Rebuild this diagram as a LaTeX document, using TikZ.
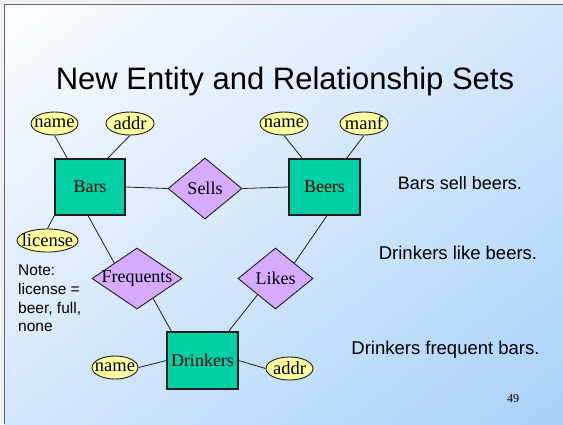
\documentclass[tikz,border=0pt]{standalone}
\usepackage{fontspec}
\setmainfont{Liberation Serif}
\setsansfont{Liberation Sans}
\usetikzlibrary{shapes.geometric,calc}
\definecolor{entfill}{RGB}{0,208,164}
\definecolor{relfill}{RGB}{214,170,255}
\definecolor{attfill}{RGB}{255,255,160}
\definecolor{edgec}{RGB}{30,30,30}
\definecolor{bgA}{RGB}{252,253,255}
\definecolor{bgB}{RGB}{212,231,251}
\definecolor{bgC}{RGB}{168,210,249}
\definecolor{framec}{RGB}{100,100,115}
\definecolor{outerc}{RGB}{238,240,244}
\tikzset{
  ent/.style={rectangle, draw=edgec, line width=1.2pt, fill=entfill, inner sep=0pt, font=\fontsize{18}{20}\selectfont},
  rel/.style={diamond, draw=edgec, line width=0.9pt, fill=relfill, inner sep=0pt, font=\fontsize{18}{20}\selectfont},
  att/.style={ellipse, draw=edgec, line width=0.9pt, fill=attfill, inner sep=0pt, minimum height=23pt, font=\fontsize{18.5}{20}\selectfont},
  conn/.style={draw=edgec, line width=0.8pt},
  side/.style={anchor=base, inner sep=0pt, font=\sffamily\fontsize{18.5}{22}\selectfont}
}
\begin{document}
\begin{tikzpicture}[x=1pt,y=-1pt]
\useasboundingbox (0,0) rectangle (563,424);
\fill[outerc] (0,0) rectangle (563,424);
\begin{scope}
  \clip (4,4) rectangle (563,424);
  \foreach \i in {0,...,79} {
    \pgfmathsetmacro{\sa}{\i/40}
    \pgfmathsetmacro{\sb}{(\i+1.8)/40}
    \ifnum\i<40
      \pgfmathsetmacro{\p}{100*(1-(\i+0.5)/40)}
      \colorlet{stripc}{bgA!\p!bgB}
    \else
      \pgfmathsetmacro{\p}{100*((\i+0.5)/40-1)}
      \colorlet{stripc}{bgC!\p!bgB}
    \fi
    \fill[stripc] (4+\sa*559,4) -- (4+\sb*559,4) -- (4,4+\sb*420) -- (4,4+\sa*420) -- cycle;
  }
\end{scope}
\draw[framec, line width=1.6pt] (4.5,424) -- (4.5,4.5) -- (563,4.5);

\node[anchor=base, inner sep=0pt, font=\sffamily\fontsize{31}{36}\selectfont] (title) at (285,89) {New Entity and Relationship Sets};

% entities
\node[ent, minimum width=70pt, minimum height=56pt] (bars) at (90,187) {Bars};
\node[ent, minimum width=71pt, minimum height=56pt] (beers) at (324.5,187) {Beers};
\node[ent, minimum width=71pt, minimum height=57pt] (drink) at (202.5,360.5) {Drinkers};

% relationships
\node[rel, minimum width=74pt, minimum height=61pt] (sells) at (205,188.5) {\makebox[0pt]{Sells}};
\node[rel, minimum width=90pt, minimum height=61pt] (freq) at (137,278.5) {\makebox[0pt]{Frequents}};
\node[rel, minimum width=75pt, minimum height=61pt] (likes) at (275.5,278.5) {\makebox[0pt]{Likes}};

% attributes
\node[att, minimum width=47pt] (bname) at (54.5,123.5) {\makebox[0pt]{name}};
\node[att, minimum width=48pt] (baddr) at (130,123.5) {\makebox[0pt]{addr}};
\node[att, minimum width=48pt] (ername) at (284,123.5) {\makebox[0pt]{name}};
\node[att, minimum width=48pt] (manf) at (364,123.5) {\makebox[0pt]{manf}};
\node[att, minimum width=61pt] (license) at (47.5,240.5) {\makebox[0pt]{license}};
\node[att, minimum width=46pt] (dname) at (115,367.5) {\makebox[0pt]{name}};
\node[att, minimum width=47pt] (daddr) at (289.5,368.5) {\makebox[0pt]{addr}};

% connectors
\draw[conn] (bname.south) -- ([xshift=13pt]bars.north west);
\draw[conn] (baddr.south) -- ([xshift=-18pt]bars.north east);
\draw[conn] (ername.south) -- ([xshift=14pt]beers.north west);
\draw[conn] (manf.south) -- ([xshift=-14pt]beers.north east);
\draw[conn] (license.north) -- (bars.south west);
\draw[conn] (bars.east) -- (sells.west);
\draw[conn] (sells.east) -- (beers.west);
\draw[conn] ([xshift=-2pt]bars.south) -- (freq.north west);
\draw[conn] ([xshift=2.5pt]beers.south) -- (likes.north east);
\draw[conn] (freq.-51) -- ([xshift=5pt]drink.north west);
\draw[conn] (likes.-138) -- ([xshift=-10pt]drink.north east);
\draw[conn] (dname.east) -- (drink.west);
\draw[conn] (drink.east) -- (daddr.west);

% side texts
\node[side, font=\sffamily\fontsize{18}{22}\selectfont] (t1) at (460,189) {Bars sell beers.};
\node[side] (t2) at (458,259) {Drinkers like beers.};
\node[side] (t3) at (445.5,354) {Drinkers frequent bars.};
\node[anchor=north west, inner sep=0pt, align=left, font=\sffamily\fontsize{15.5}{18.7}\selectfont] (note) at (18,265) {Note:\\license =\\beer, full,\\none};
\node[anchor=base, inner sep=0pt, font=\fontsize{12}{14}\selectfont] (pg) at (513,402) {49};
\end{tikzpicture}
\end{document}
